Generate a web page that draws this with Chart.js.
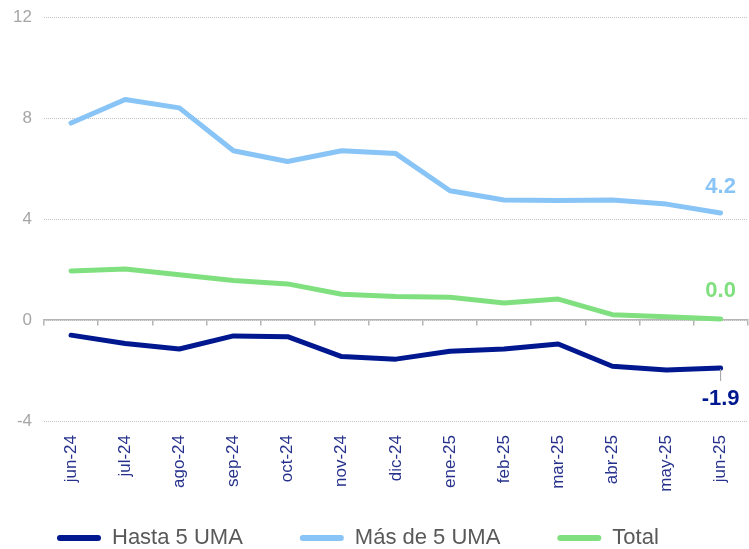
<!DOCTYPE html>
<html>
<head>
<meta charset="utf-8">
<script src="https://cdn.jsdelivr.net/npm/chart.js@4"></script>
<style>
html,body{margin:0;padding:0;background:#fff;overflow:hidden;}
#wrap{width:755px;height:559px;}
</style>
</head>
<body>
<div id="wrap"><canvas id="c" width="755" height="559"></canvas></div>
<script>
const categories = ['jun-24','jul-24','ago-24','sep-24','oct-24','nov-24','dic-24','ene-25','feb-25','mar-25','abr-25','may-25','jun-25'];
const hasta5 = [-0.6, -0.93, -1.15, -0.63, -0.66, -1.45, -1.55, -1.24, -1.15, -0.95, -1.83, -1.98, -1.9];
const mas5 = [7.8, 8.73, 8.4, 6.7, 6.28, 6.7, 6.59, 5.12, 4.75, 4.73, 4.75, 4.59, 4.24];
const total = [1.94, 2.02, 1.79, 1.56, 1.43, 1.02, 0.93, 0.9, 0.67, 0.83, 0.21, 0.13, 0.04];
const seriesNames = ['Hasta 5 UMA', 'Más de 5 UMA', 'Total'];
const yTicks = [-4, 0, 4, 8, 12];

const FONT = "'Liberation Sans', Arial, sans-serif";
const colors = ['#00188f', '#88c4f6', '#80e080'];
const labelOffsets = [31, -26, -28];

const endLabels = {
  id: 'endLabels',
  afterDatasetsDraw(chart) {
    const ctx = chart.ctx;
    chart.data.datasets.forEach((ds, i) => {
      const meta = chart.getDatasetMeta(i);
      const last = meta.data[meta.data.length - 1];
      const v = ds.data[ds.data.length - 1];
      const off = labelOffsets[i];
      ctx.save();
      if (off > 0) {
        ctx.strokeStyle = '#a0a0a0';
        ctx.lineWidth = 1;
        ctx.beginPath();
        ctx.moveTo(last.x, last.y + 1);
        ctx.lineTo(last.x, last.y + 13);
        ctx.stroke();
      }
      ctx.font = 'bold 22px ' + FONT;
      ctx.fillStyle = colors[i];
      ctx.textAlign = 'center';
      ctx.textBaseline = 'middle';
      ctx.fillText(v.toFixed(1), last.x, last.y + off);
      ctx.restore();
    });
  }
};

const datasets = [hasta5, mas5, total].map((d, i) => ({
  label: seriesNames[i],
  data: d,
  borderColor: colors[i],
  backgroundColor: colors[i],
  borderWidth: 5,
  pointRadius: 0,
  tension: 0,
  borderCapStyle: 'round',
  borderJoinStyle: 'round',
  xAxisID: 'x',
  yAxisID: 'y'
}));

new Chart(document.getElementById('c'), {
  type: 'line',
  data: { labels: categories, datasets },
  options: {
    responsive: false,
    devicePixelRatio: 1,
    animation: false,
    layout: { padding: { left: 0, right: 0, top: 17, bottom: 0 } },
    plugins: {
      tooltip: { enabled: false },
      legend: {
        position: 'bottom',
        align: 'start',
        labels: {
          font: { family: FONT, size: 22 },
          color: '#595959',
          boxWidth: 44,
          boxHeight: 6,
          padding: 57,
          useBorderRadius: true,
          borderRadius: 3,
          generateLabels(chart) {
            return Chart.defaults.plugins.legend.labels.generateLabels(chart).map(it => {
              it.lineWidth = 0;
              it.strokeStyle = 'rgba(0,0,0,0)';
              it.borderRadius = 3;
              return it;
            });
          }
        }
      }
    },
    scales: {
      x: {
        type: 'category',
        position: 'bottom',
        offset: true,
        grid: { display: false, drawTicks: false, offset: true },
        border: { display: false },
        ticks: {
          autoSkip: false,
          minRotation: 90,
          maxRotation: 90,
          padding: 14,
          color: '#26318c',
          font: { family: FONT, size: 17 }
        },
        afterFit(s) {
          s.height = 49;
          s._computeLabelArea = function () { return undefined; };
        }
      },
      x2: {
        type: 'category',
        labels: categories,
        position: { y: 0 },
        offset: true,
        grid: { drawOnChartArea: false, drawTicks: true, tickLength: 5, offset: true, color: '#b4b4b4', lineWidth: 1.5 },
        border: { display: true, color: '#b4b4b4', width: 1.5 },
        ticks: { display: false }
      },
      y: {
        min: -4,
        max: 12,
        afterBuildTicks(s) { s.ticks = yTicks.map(v => ({ value: v })); },
        grid: { color: '#c4c4c4', lineWidth: 1, drawTicks: false },
        border: { display: false, dash: [1, 1] },
        ticks: {
          padding: 12,
          color: '#a6a6a6',
          font: { family: FONT, size: 17 }
        },
        afterFit(s) {
          s.width = 44;
          s.paddingTop = 0;
          s.paddingBottom = 0;
        }
      }
    }
  },
  plugins: [endLabels]
});
</script>
</body>
</html>
